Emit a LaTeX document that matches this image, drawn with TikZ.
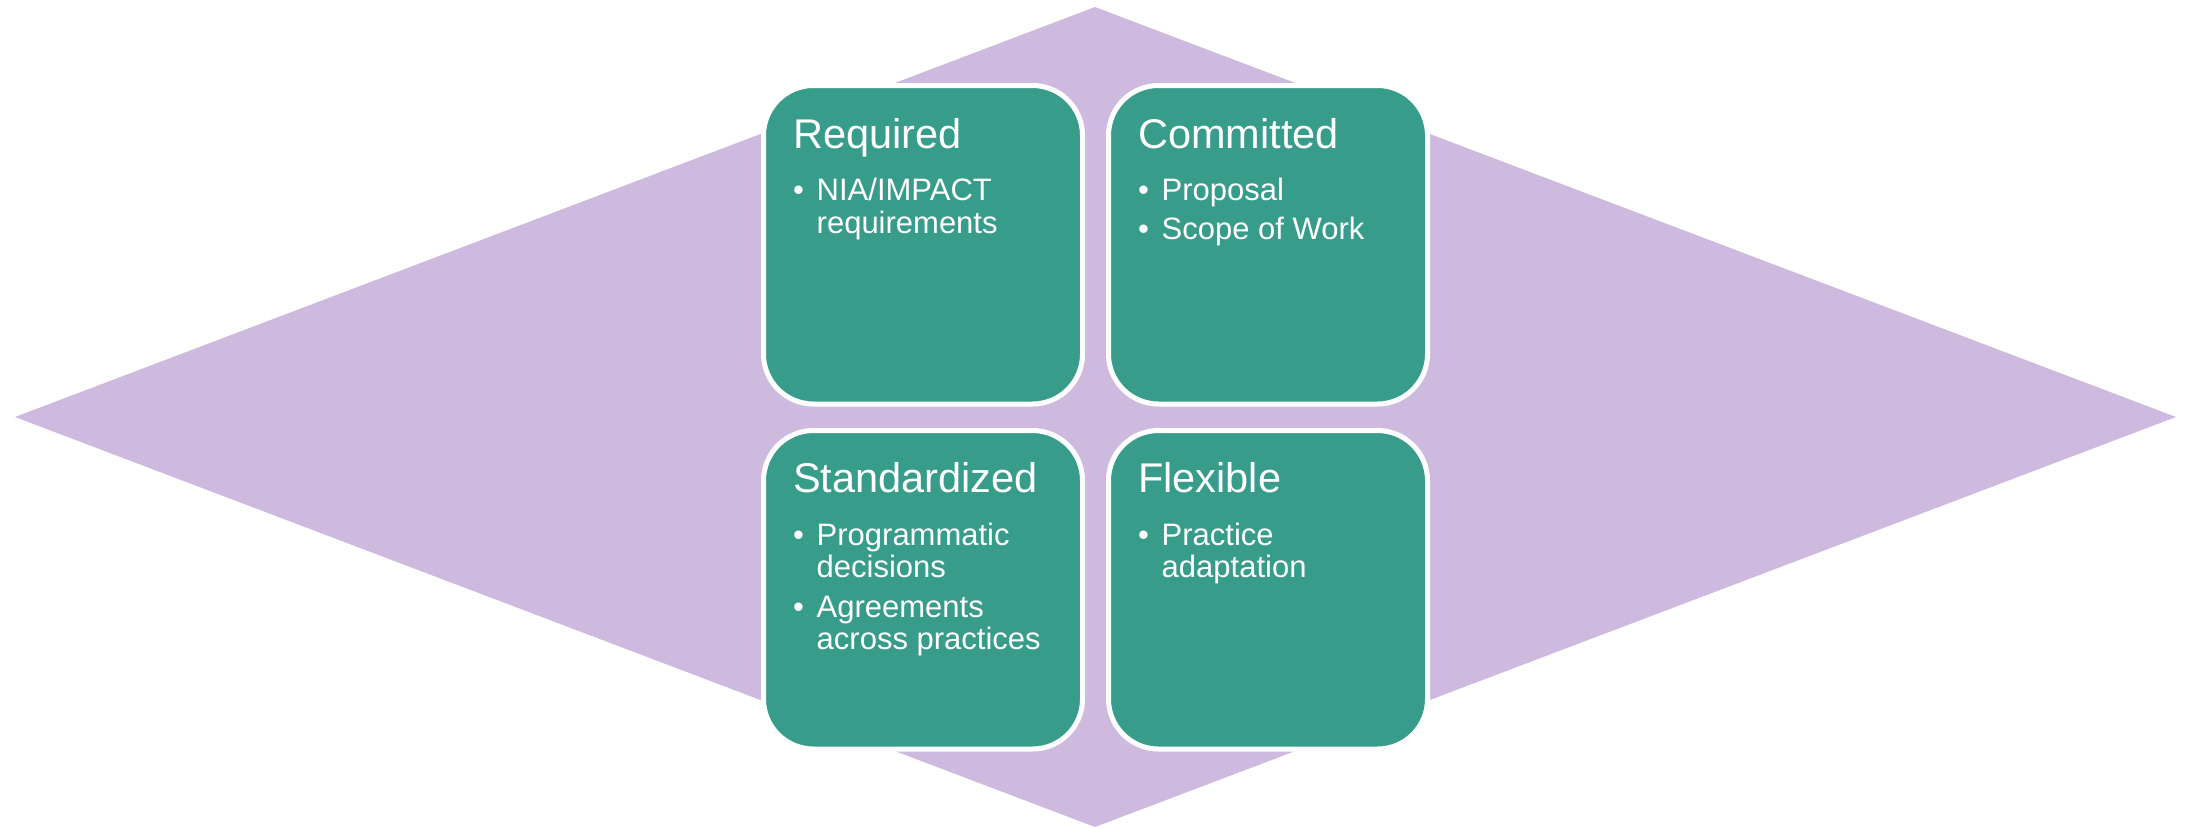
\documentclass[tikz,border=0pt]{standalone}
\usepackage{fontspec}
\setmainfont{Liberation Sans}
\definecolor{tealbox}{HTML}{389C8B}
\definecolor{lav}{HTML}{CEBADF}
\begin{document}
\begin{tikzpicture}[x=1pt,y=-1pt,
  box/.style={draw=white,line width=5pt,fill=tealbox,rounded corners=50pt,
    minimum width=319pt,minimum height=318.5pt,inner sep=0pt,outer sep=0pt},
  ttl/.style={anchor=base west,inner sep=0pt,text=white,font=\fontsize{41.5}{41.5}\selectfont},
  itm/.style={anchor=base west,inner sep=0pt,text=white,font=\fontsize{31}{31}\selectfont}]
\useasboundingbox (0,0) rectangle (2186,828);
\fill[lav] (15,417) -- (1095,7) -- (2176,417) -- (1095,827) -- cycle;
% boxes
\node[box] (req) at (923,244.75) {};
\node[box] (com) at (1268,244.75) {};
\node[box] (std) at (923,589.75) {};
\node[box] (flx) at (1268,589.75) {};
% Required
\node[ttl] (reqt) at (793,148.3) {Required};
\node[itm] (reqd1) at (793,200.7) {•};
\node[itm] (reqb1) at (816.5,200.7) {NIA/IMPACT};
\node[itm] (reqb1b) at (816.5,233.3) {requirements};
% Committed
\node[ttl] (comt) at (1138,148.3) {Committed};
\node[itm] (comd1) at (1138,200.7) {•};
\node[itm] (comb1) at (1161.5,200.7) {Proposal};
\node[itm] (comd2) at (1138,239.3) {•};
\node[itm] (comb2) at (1161.5,239.3) {Scope of Work};
% Standardized
\node[ttl] (stdt) at (793,492.7) {Standardized};
\node[itm] (stdd1) at (793,545) {•};
\node[itm] (stdb1) at (816.5,545) {Programmatic};
\node[itm] (stdb1b) at (816.5,577.7) {decisions};
\node[itm] (stdd2) at (793,617.3) {•};
\node[itm] (stdb2) at (816.5,617.3) {Agreements};
\node[itm] (stdb2b) at (816.5,649.3) {across practices};
% Flexible
\node[ttl] (flxt) at (1138,492.7) {Flexible};
\node[itm] (flxd1) at (1138,545) {•};
\node[itm] (flxb1) at (1161.5,545) {Practice};
\node[itm] (flxb1b) at (1161.5,577.7) {adaptation};
\end{tikzpicture}
\end{document}
